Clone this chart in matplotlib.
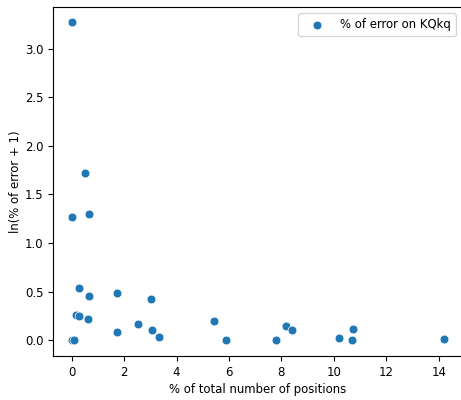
import matplotlib
matplotlib.use("Agg")
import matplotlib.pyplot as plt
from matplotlib import font_manager
import numpy as np

pct_positions = [0.0, 0.5, 0.0, 0.65, 0.27, 0.65, 1.72, 3.02, 0.17, 0.27, 0.62, 1.74,
                 2.53, 3.08, 3.32, 5.43, 5.9, 0.0, 0.1, 7.8, 8.18, 8.4, 10.2, 10.7, 10.73, 14.2]
ln_error = [3.27, 1.72, 1.27, 1.30, 0.535, 0.455, 0.48, 0.42, 0.26, 0.25, 0.22, 0.085,
            0.165, 0.10, 0.03, 0.195, 0.0, 0.0, 0.0, 0.0, 0.145, 0.10, 0.02, 0.0, 0.115, 0.01]

names = {f.name for f in font_manager.fontManager.ttflist}
plt.rcParams['font.size'] = 9.4
if "DejaVu Sans Condensed" in names:
    plt.rcParams['font.family'] = ['DejaVu Sans Condensed', 'DejaVu Sans']
else:
    plt.rcParams['font.stretch'] = 'condensed'

fig = plt.figure(figsize=(4.61, 4.0), dpi=100)
ax = fig.add_axes([53/461, 44/400, 409.6/461, 349.5/400])
ax.scatter(pct_positions, ln_error, color="#1f77b4", s=40, edgecolors="white",
           linewidths=0.5, label="% of error on KQkq")
ax.set_xlabel("% of total number of positions", labelpad=3)
ax.set_ylabel("ln(% of error + 1)", labelpad=2)
ax.legend(loc="upper right")
fig.savefig("out.png", dpi=100)
